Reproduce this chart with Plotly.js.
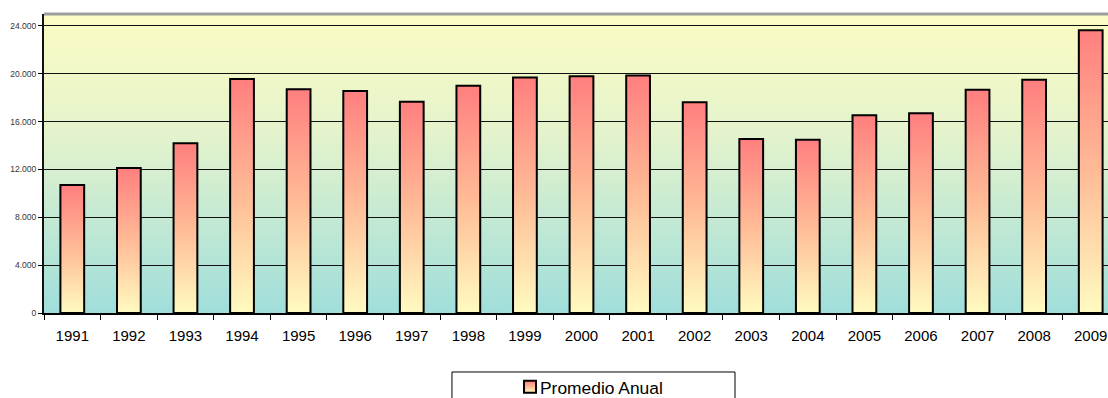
<!DOCTYPE html>
<html><head><meta charset="utf-8">
<script src="https://cdn.plot.ly/plotly-3.0.1.min.js"></script>
<style>html,body{margin:0;padding:0;overflow:hidden;background:#fff}</style>
</head><body><div id="chart"></div>
<script>
const years = ['1991','1992','1993','1994','1995','1996','1997','1998','1999','2000','2001','2002','2003','2004','2005','2006','2007','2008','2009'];
const promedioAnual = [10700,12130,14200,19570,18700,18560,17670,19000,19700,19800,19850,17630,14550,14490,16540,16700,18660,19510,23640];
const seriesName = 'Promedio Anual';
const yTickVals = [0,4000,8000,12000,16000,20000,24000];

const data = [{
  type: 'bar',
  x: years,
  y: promedioAnual,
  name: seriesName,
  showlegend: true,
  marker: {color: '#FFB090', line: {color: '#000000', width: 2}}
}];

const layout = {
  width: 1140, height: 420,
  margin: {l: 44, r: 21, t: 14, b: 107},
  paper_bgcolor: '#ffffff',
  plot_bgcolor: '#D8F0D0',
  bargap: 0.58,
  separators: ',.',
  font: {family: 'Arial, "Liberation Sans", sans-serif', color: '#000'},
  showlegend: true,
  legend: {
    orientation: 'h',
    x: 0.4242, xanchor: 'left',
    y: -0.2475, yanchor: 'middle',
    bgcolor: 'rgba(0,0,0,0)',
    borderwidth: 0,
    font: {size: 17.4, color: '#000'}
  },
  xaxis: {
    type: 'category',
    tickson: 'boundaries',
    ticks: 'outside', ticklen: 5, tickwidth: 1, tickcolor: '#000',
    ticklabelstandoff: 8,
    showline: true, linecolor: '#000', linewidth: 1.5,
    showgrid: false,
    tickfont: {size: 15, color: '#000'},
    fixedrange: true
  },
  yaxis: {
    range: [0, 25000],
    tickvals: yTickVals,
    tickformat: ',.0f',
    ticks: 'outside', ticklen: 4, tickwidth: 1, tickcolor: '#000',
    showline: true, linecolor: '#111', linewidth: 2,
    showgrid: true, gridcolor: '#111', gridwidth: 1,
    zeroline: false,
    tickfont: {size: 8.5, color: '#333'},
    fixedrange: true
  },
  shapes: [
    {type: 'line', xref: 'paper', yref: 'paper', x0: 0, x1: 1, y0: 1, y1: 1,
     line: {color: '#9E9E9E', width: 3}},
    {type: 'rect', xref: 'paper', yref: 'paper', x0: 0.3795, x1: 0.6428, y0: -0.1973, y1: -0.40,
     line: {color: '#000', width: 1}, fillcolor: 'rgba(0,0,0,0)', layer: 'below'}
  ]
};

Plotly.newPlot('chart', data, layout, {staticPlot: true, displayModeBar: false}).then(gd => {
  const ns = 'http://www.w3.org/2000/svg';
  const svg = gd.querySelector('svg.main-svg');
  let defs = svg.querySelector('defs');
  if (!defs) { defs = document.createElementNS(ns, 'defs'); svg.insertBefore(defs, svg.firstChild); }
  function addGrad(id, stops) {
    const g = document.createElementNS(ns, 'linearGradient');
    g.setAttribute('id', id);
    g.setAttribute('x1', '0'); g.setAttribute('y1', '0');
    g.setAttribute('x2', '0'); g.setAttribute('y2', '1');
    stops.forEach(([o, c]) => {
      const s = document.createElementNS(ns, 'stop');
      s.setAttribute('offset', o); s.setAttribute('stop-color', c);
      g.appendChild(s);
    });
    defs.appendChild(g);
  }
  addGrad('plotGrad', [['0', '#FCFCC4'], ['0.4', '#E4F3CC'], ['1', '#A0DEDB']]);
  addGrad('barGrad', [['0', '#FF7F7F'], ['0.5', '#FFBB96'], ['1', '#FFFBC0']]);
  gd.querySelectorAll('.bglayer .bg').forEach(r => { r.style.fill = 'url(#plotGrad)'; });
  gd.querySelectorAll('.barlayer .point path').forEach(p => { p.style.fill = 'url(#barGrad)'; });
  gd.querySelectorAll('.legend .legendpoints path').forEach(p => {
    p.style.fill = 'url(#barGrad)'; p.style.stroke = '#000'; p.style.strokeWidth = '2px';
  });
  gd.querySelectorAll('.legend .legendpoints').forEach(g => { g.setAttribute('transform', 'translate(10,0)'); });
});
</script>
</body></html>
